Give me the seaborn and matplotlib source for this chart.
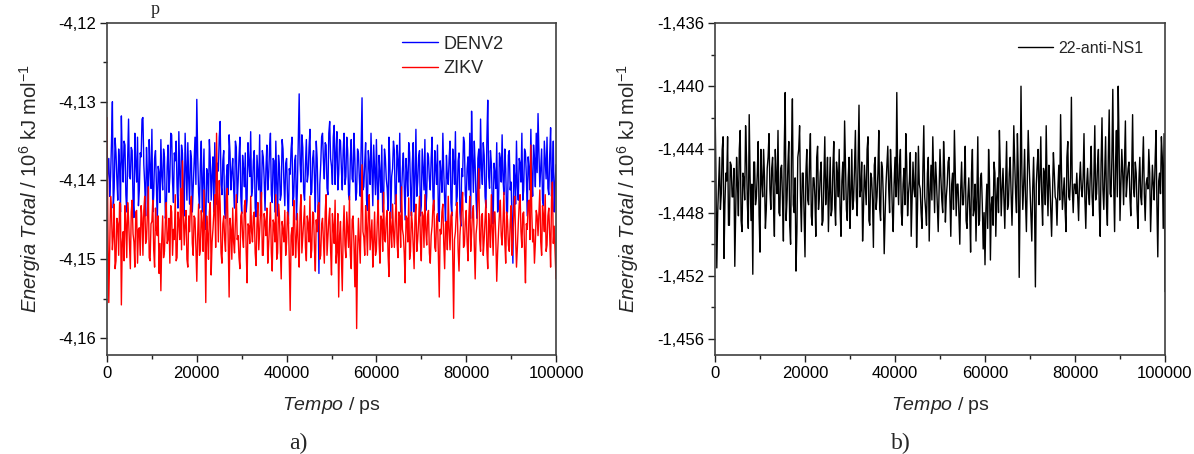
import numpy as np
import pandas as pd
import matplotlib
matplotlib.use("Agg")
import matplotlib.pyplot as plt
from matplotlib.ticker import MultipleLocator, FuncFormatter
import seaborn as sns

# ---------------- data (10^6 kJ/mol) ----------------
# "_a" lists: samples at t = 0, 400, 800 ... 100000 ps
# "_b" lists: samples at t = 200, 600, 1000 ... 99800 ps
time_step_ps = 400
denv2_a = [
    -4.1405, -4.1372, -4.1395, -4.1300, -4.1410, -4.1365, -4.1425, -4.1380, -4.1318, -4.1402,
    -4.1355, -4.1440, -4.1322, -4.1398, -4.1362, -4.1447, -4.1378, -4.1345, -4.1412, -4.1370,
    -4.1320, -4.1405, -4.1358, -4.1432, -4.1385, -4.1335, -4.1418, -4.1362, -4.1455, -4.1390,
    -4.1348, -4.1412, -4.1370, -4.1438, -4.1355, -4.1395, -4.1342, -4.1428, -4.1375, -4.1408,
    -4.1338, -4.1420, -4.1365, -4.1445, -4.1385, -4.1352, -4.1430, -4.1372, -4.1410, -4.1345,
    -4.1297, -4.1415, -4.1380, -4.1440, -4.1360, -4.1462, -4.1392, -4.1348, -4.1425, -4.1370,
    -4.1352, -4.1430, -4.1388, -4.1325, -4.1418, -4.1362, -4.1448, -4.1380, -4.1342, -4.1412,
    -4.1372, -4.1435, -4.1358, -4.1402, -4.1345, -4.1442, -4.1385, -4.1365, -4.1425, -4.1378,
    -4.1338, -4.1410, -4.1362, -4.1446, -4.1390, -4.1342, -4.1420, -4.1370, -4.1438, -4.1355,
    -4.1395, -4.1340, -4.1428, -4.1375, -4.1350, -4.1445, -4.1382, -4.1418, -4.1360, -4.1432,
    -4.1372, -4.1455, -4.1392, -4.1345, -4.1420, -4.1368, -4.1410, -4.1290, -4.1402, -4.1358,
    -4.1425, -4.1348, -4.1392, -4.1335, -4.1415, -4.1362, -4.1440, -4.1372, -4.1518, -4.1380,
    -4.1340, -4.1398, -4.1355, -4.1418, -4.1325, -4.1382, -4.1345, -4.1405, -4.1338, -4.1392,
    -4.1350, -4.1412, -4.1340, -4.1395, -4.1362, -4.1425, -4.1348, -4.1402, -4.1372, -4.1415,
    -4.1365, -4.1420, -4.1295, -4.1408, -4.1352, -4.1438, -4.1378, -4.1340, -4.1432, -4.1385,
    -4.1348, -4.1442, -4.1390, -4.1355, -4.1428, -4.1372, -4.1410, -4.1345, -4.1448, -4.1385,
    -4.1362, -4.1425, -4.1375, -4.1340, -4.1418, -4.1365, -4.1450, -4.1392, -4.1352, -4.1412,
    -4.1378, -4.1440, -4.1335, -4.1402, -4.1362, -4.1432, -4.1385, -4.1348, -4.1420, -4.1370,
    -4.1412, -4.1345, -4.1438, -4.1382, -4.1355, -4.1452, -4.1392, -4.1340, -4.1425, -4.1368,
    -4.1405, -4.1350, -4.1445, -4.1378, -4.1338, -4.1420, -4.1365, -4.1458, -4.1395, -4.1352,
    -4.1428, -4.1370, -4.1340, -4.1312, -4.1415, -4.1382, -4.1448, -4.1360, -4.1322, -4.1405,
    -4.1368, -4.1435, -4.1298, -4.1410, -4.1378, -4.1455, -4.1390, -4.1352, -4.1432, -4.1372,
    -4.1342, -4.1418, -4.1385, -4.1440, -4.1362, -4.1402, -4.1505, -4.1395, -4.1350, -4.1425,
    -4.1378, -4.1340, -4.1412, -4.1365, -4.1445, -4.1385, -4.1335, -4.1420, -4.1372, -4.1340,
    -4.1315, -4.1408, -4.1360, -4.1432, -4.1375, -4.1345, -4.1418, -4.1333, -4.1395, -4.1440,
    -4.1380,
]
denv2_b = [
    -4.1388, -4.1420, -4.1352, -4.1435, -4.1346, -4.1398, -4.1360, -4.1440, -4.1375, -4.1350,
    -4.1418, -4.1372, -4.1395, -4.1358, -4.1425, -4.1340, -4.1402, -4.1432, -4.1365, -4.1322,
    -4.1380, -4.1445, -4.1392, -4.1348, -4.1410, -4.1440, -4.1372, -4.1405, -4.1382, -4.1428,
    -4.1395, -4.1360, -4.1448, -4.1382, -4.1415, -4.1340, -4.1402, -4.1365, -4.1350, -4.1435,
    -4.1392, -4.1355, -4.1412, -4.1340, -4.1425, -4.1398, -4.1362, -4.1440, -4.1378, -4.1405,
    -4.1368, -4.1435, -4.1350, -4.1402, -4.1448, -4.1385, -4.1428, -4.1375, -4.1392, -4.1440,
    -4.1402, -4.1378, -4.1345, -4.1405, -4.1375, -4.1440, -4.1395, -4.1418, -4.1365, -4.1390,
    -4.1410, -4.1350, -4.1428, -4.1370, -4.1420, -4.1368, -4.1408, -4.1440, -4.1352, -4.1395,
    -4.1420, -4.1375, -4.1435, -4.1368, -4.1412, -4.1445, -4.1362, -4.1398, -4.1385, -4.1412,
    -4.1360, -4.1418, -4.1372, -4.1440, -4.1405, -4.1368, -4.1425, -4.1348, -4.1402, -4.1378,
    -4.1420, -4.1385, -4.1360, -4.1432, -4.1375, -4.1450, -4.1352, -4.1378, -4.1342, -4.1415,
    -4.1380, -4.1402, -4.1358, -4.1418, -4.1372, -4.1395, -4.1350, -4.1425, -4.1405, -4.1345,
    -4.1375, -4.1352, -4.1410, -4.1340, -4.1372, -4.1405, -4.1330, -4.1365, -4.1412, -4.1348,
    -4.1385, -4.1362, -4.1405, -4.1345, -4.1418, -4.1372, -4.1398, -4.1340, -4.1425, -4.1360,
    -4.1398, -4.1355, -4.1412, -4.1378, -4.1425, -4.1362, -4.1405, -4.1388, -4.1355, -4.1418,
    -4.1405, -4.1368, -4.1415, -4.1440, -4.1360, -4.1398, -4.1438, -4.1378, -4.1395, -4.1350,
    -4.1430, -4.1355, -4.1402, -4.1440, -4.1385, -4.1410, -4.1372, -4.1420, -4.1365, -4.1445,
    -4.1352, -4.1398, -4.1420, -4.1370, -4.1445, -4.1360, -4.1412, -4.1438, -4.1365, -4.1398,
    -4.1372, -4.1420, -4.1362, -4.1405, -4.1440, -4.1375, -4.1415, -4.1388, -4.1452, -4.1395,
    -4.1372, -4.1428, -4.1360, -4.1405, -4.1432, -4.1375, -4.1440, -4.1385, -4.1345, -4.1418,
    -4.1385, -4.1412, -4.1448, -4.1372, -4.1350, -4.1425, -4.1372, -4.1410, -4.1385, -4.1352,
    -4.1420, -4.1350, -4.1395, -4.1362, -4.1425, -4.1378, -4.1410, -4.1440, -4.1365, -4.1402,
    -4.1398, -4.1360, -4.1442, -4.1368, -4.1412, -4.1452, -4.1380, -4.1430, -4.1408, -4.1372,
    -4.1402, -4.1425, -4.1360, -4.1395, -4.1370, -4.1412, -4.1398, -4.1355, -4.1408, -4.1390,
    -4.1365, -4.1385, -4.1425, -4.1350, -4.1398, -4.1410, -4.1368, -4.1420, -4.1350, -4.1405,
]
zikv_a = [
    -4.1320, -4.1555, -4.1420, -4.1488, -4.1430, -4.1502, -4.1455, -4.1428, -4.1558, -4.1465,
    -4.1432, -4.1498, -4.1448, -4.1512, -4.1425, -4.1478, -4.1440, -4.1505, -4.1460, -4.1432,
    -4.1495, -4.1420, -4.1475, -4.1408, -4.1502, -4.1452, -4.1488, -4.1435, -4.1470, -4.1518,
    -4.1540, -4.1445, -4.1490, -4.1428, -4.1475, -4.1505, -4.1440, -4.1462, -4.1418, -4.1498,
    -4.1452, -4.1410, -4.1375, -4.1482, -4.1438, -4.1510, -4.1465, -4.1420, -4.1495, -4.1448,
    -4.1528, -4.1430, -4.1488, -4.1455, -4.1412, -4.1555, -4.1468, -4.1440, -4.1520, -4.1462,
    -4.1418, -4.1340, -4.1478, -4.1430, -4.1505, -4.1445, -4.1490, -4.1410, -4.1548, -4.1462,
    -4.1435, -4.1492, -4.1418, -4.1470, -4.1512, -4.1440, -4.1485, -4.1425, -4.1530, -4.1458,
    -4.1420, -4.1478, -4.1440, -4.1508, -4.1428, -4.1465, -4.1415, -4.1495, -4.1452, -4.1435,
    -4.1482, -4.1428, -4.1515, -4.1455, -4.1418, -4.1492, -4.1445, -4.1525, -4.1462, -4.1438,
    -4.1478, -4.1448, -4.1565, -4.1460, -4.1425, -4.1498, -4.1442, -4.1510, -4.1418, -4.1472,
    -4.1432, -4.1502, -4.1455, -4.1420, -4.1488, -4.1442, -4.1515, -4.1465, -4.1428, -4.1495,
    -4.1448, -4.1505, -4.1418, -4.1472, -4.1435, -4.1520, -4.1458, -4.1425, -4.1490, -4.1548,
    -4.1452, -4.1540, -4.1432, -4.1498, -4.1462, -4.1420, -4.1512, -4.1445, -4.1535, -4.1588,
    -4.1448, -4.1505, -4.1380, -4.1472, -4.1432, -4.1495, -4.1418, -4.1468, -4.1510, -4.1440,
    -4.1488, -4.1425, -4.1505, -4.1450, -4.1415, -4.1478, -4.1438, -4.1522, -4.1460, -4.1430,
    -4.1485, -4.1418, -4.1498, -4.1445, -4.1408, -4.1470, -4.1530, -4.1448, -4.1422, -4.1490,
    -4.1455, -4.1512, -4.1430, -4.1475, -4.1420, -4.1502, -4.1445, -4.1418, -4.1482, -4.1438,
    -4.1505, -4.1458, -4.1425, -4.1490, -4.1442, -4.1548, -4.1468, -4.1430, -4.1512, -4.1452,
    -4.1420, -4.1488, -4.1440, -4.1575, -4.1465, -4.1428, -4.1515, -4.1450, -4.1415, -4.1482,
    -4.1438, -4.1502, -4.1420, -4.1468, -4.1432, -4.1525, -4.1455, -4.1385, -4.1490, -4.1442,
    -4.1475, -4.1425, -4.1512, -4.1460, -4.1418, -4.1495, -4.1440, -4.1528, -4.1465, -4.1425,
    -4.1482, -4.1415, -4.1505, -4.1450, -4.1490, -4.1432, -4.1475, -4.1420, -4.1510, -4.1455,
    -4.1418, -4.1485, -4.1440, -4.1530, -4.1462, -4.1425, -4.1355, -4.1478, -4.1505, -4.1438,
    -4.1470, -4.1412, -4.1495, -4.1445, -4.1418, -4.1482, -4.1435, -4.1510, -4.1402, -4.1458,
    -4.1525,
]
zikv_b = [
    -4.1460, -4.1485, -4.1438, -4.1470, -4.1512, -4.1448, -4.1495, -4.1430, -4.1478, -4.1502,
    -4.1455, -4.1428, -4.1482, -4.1440, -4.1468, -4.1510, -4.1438, -4.1462, -4.1495, -4.1448,
    -4.1438, -4.1480, -4.1442, -4.1498, -4.1455, -4.1425, -4.1510, -4.1462, -4.1445, -4.1480,
    -4.1475, -4.1498, -4.1452, -4.1480, -4.1448, -4.1432, -4.1495, -4.1475, -4.1502, -4.1440,
    -4.1475, -4.1488, -4.1442, -4.1455, -4.1500, -4.1445, -4.1430, -4.1480, -4.1445, -4.1485,
    -4.1470, -4.1495, -4.1438, -4.1490, -4.1468, -4.1445, -4.1500, -4.1428, -4.1478, -4.1440,
    -4.1485, -4.1420, -4.1400, -4.1492, -4.1455, -4.1475, -4.1420, -4.1478, -4.1448, -4.1500,
    -4.1478, -4.1450, -4.1475, -4.1498, -4.1445, -4.1472, -4.1432, -4.1490, -4.1455, -4.1480,
    -4.1465, -4.1445, -4.1492, -4.1455, -4.1488, -4.1440, -4.1495, -4.1442, -4.1470, -4.1505,
    -4.1455, -4.1492, -4.1450, -4.1478, -4.1500, -4.1430, -4.1485, -4.1452, -4.1478, -4.1495,
    -4.1440, -4.1502, -4.1470, -4.1495, -4.1450, -4.1472, -4.1485, -4.1440, -4.1492, -4.1450,
    -4.1485, -4.1445, -4.1478, -4.1498, -4.1440, -4.1485, -4.1450, -4.1432, -4.1500, -4.1455,
    -4.1478, -4.1440, -4.1495, -4.1450, -4.1488, -4.1442, -4.1480, -4.1505, -4.1442, -4.1470,
    -4.1498, -4.1465, -4.1482, -4.1440, -4.1485, -4.1495, -4.1450, -4.1480, -4.1470, -4.1495,
    -4.1475, -4.1442, -4.1465, -4.1495, -4.1458, -4.1440, -4.1488, -4.1450, -4.1478, -4.1495,
    -4.1452, -4.1480, -4.1445, -4.1490, -4.1475, -4.1448, -4.1495, -4.1440, -4.1485, -4.1465,
    -4.1450, -4.1478, -4.1440, -4.1485, -4.1462, -4.1492, -4.1445, -4.1478, -4.1500, -4.1440,
    -4.1482, -4.1445, -4.1490, -4.1452, -4.1478, -4.1440, -4.1485, -4.1462, -4.1445, -4.1492,
    -4.1470, -4.1432, -4.1485, -4.1448, -4.1495, -4.1462, -4.1440, -4.1480, -4.1455, -4.1488,
    -4.1462, -4.1445, -4.1495, -4.1475, -4.1440, -4.1488, -4.1470, -4.1432, -4.1485, -4.1452,
    -4.1478, -4.1445, -4.1490, -4.1440, -4.1482, -4.1468, -4.1418, -4.1475, -4.1445, -4.1495,
    -4.1450, -4.1488, -4.1442, -4.1485, -4.1460, -4.1440, -4.1475, -4.1492, -4.1442, -4.1470,
    -4.1452, -4.1478, -4.1440, -4.1482, -4.1455, -4.1495, -4.1442, -4.1470, -4.1485, -4.1430,
    -4.1465, -4.1442, -4.1490, -4.1455, -4.1428, -4.1475, -4.1440, -4.1462, -4.1480, -4.1445,
    -4.1440, -4.1478, -4.1432, -4.1465, -4.1490, -4.1445, -4.1470, -4.1425, -4.1480, -4.1490,
]
anti_ns1_a = [
    -1.4409, -1.4515, -1.4462, -1.4478, -1.4440, -1.4509, -1.4455, -1.4432, -1.4488, -1.4450,
    -1.4470, -1.4514, -1.4445, -1.4482, -1.4428, -1.4492, -1.4458, -1.4425, -1.4475, -1.4418,
    -1.4485, -1.4519, -1.4448, -1.4470, -1.4435, -1.4505, -1.4460, -1.4440, -1.4490, -1.4452,
    -1.4430, -1.4478, -1.4445, -1.4495, -1.4458, -1.4428, -1.4482, -1.4450, -1.4498, -1.4404,
    -1.4472, -1.4435, -1.4500, -1.4408, -1.4480, -1.4517, -1.4445, -1.4425, -1.4492, -1.4455,
    -1.4508, -1.4440, -1.4475, -1.4430, -1.4488, -1.4458, -1.4495, -1.4438, -1.4470, -1.4448,
    -1.4485, -1.4432, -1.4462, -1.4492, -1.4445, -1.4478, -1.4435, -1.4488, -1.4455, -1.4440,
    -1.4495, -1.4448, -1.4422, -1.4478, -1.4458, -1.4490, -1.4440, -1.4472, -1.4428, -1.4482,
    -1.4412, -1.4465, -1.4498, -1.4450, -1.4475, -1.4432, -1.4488, -1.4458, -1.4502, -1.4445,
    -1.4470, -1.4428, -1.4485, -1.4452, -1.4506, -1.4462, -1.4438, -1.4480, -1.4455, -1.4492,
    -1.4445, -1.4404, -1.4475, -1.4440, -1.4488, -1.4452, -1.4430, -1.4482, -1.4460, -1.4495,
    -1.4448, -1.4470, -1.4502, -1.4438, -1.4465, -1.4490, -1.4425, -1.4478, -1.4455, -1.4498,
    -1.4450, -1.4432, -1.4480, -1.4458, -1.4492, -1.4440, -1.4472, -1.4435, -1.4486, -1.4462,
    -1.4445, -1.4495, -1.4455, -1.4428, -1.4482, -1.4462, -1.4500, -1.4448, -1.4475, -1.4438,
    -1.4490, -1.4458, -1.4505, -1.4440, -1.4478, -1.4498, -1.4432, -1.4485, -1.4455, -1.4503,
    -1.4513, -1.4462, -1.4440, -1.4510, -1.4470, -1.4448, -1.4495, -1.4458, -1.4428, -1.4482,
    -1.4452, -1.4490, -1.4435, -1.4475, -1.4445, -1.4488, -1.4425, -1.4468, -1.4430, -1.4521,
    -1.4400, -1.4478, -1.4440, -1.4492, -1.4428, -1.4465, -1.4498, -1.4445, -1.4527, -1.4450,
    -1.4475, -1.4432, -1.4488, -1.4455, -1.4425, -1.4482, -1.4460, -1.4495, -1.4442, -1.4470,
    -1.4488, -1.4450, -1.4418, -1.4478, -1.4458, -1.4492, -1.4435, -1.4472, -1.4407, -1.4480,
    -1.4462, -1.4455, -1.4485, -1.4448, -1.4470, -1.4430, -1.4490, -1.4452, -1.4475, -1.4438,
    -1.4482, -1.4425, -1.4468, -1.4440, -1.4495, -1.4420, -1.4478, -1.4432, -1.4488, -1.4415,
    -1.4470, -1.4402, -1.4492, -1.4428, -1.4400, -1.4485, -1.4440, -1.4475, -1.4422, -1.4460,
    -1.4448, -1.4482, -1.4418, -1.4470, -1.4455, -1.4490, -1.4445, -1.4475, -1.4432, -1.4485,
    -1.4458, -1.4440, -1.4492, -1.4450, -1.4472, -1.4428, -1.4508, -1.4455, -1.4432, -1.4490,
    -1.4530,
]
anti_ns1_b = [
    -1.4455, -1.4480, -1.4445, -1.4468, -1.4432, -1.4475, -1.4460, -1.4488, -1.4448, -1.4470,
    -1.4452, -1.4478, -1.4462, -1.4440, -1.4485, -1.4455, -1.4472, -1.4445, -1.4490, -1.4458,
    -1.4462, -1.4448, -1.4475, -1.4455, -1.4482, -1.4440, -1.4470, -1.4458, -1.4478, -1.4445,
    -1.4465, -1.4452, -1.4475, -1.4440, -1.4468, -1.4480, -1.4452, -1.4472, -1.4438, -1.4485,
    -1.4450, -1.4488, -1.4440, -1.4475, -1.4458, -1.4492, -1.4440, -1.4470, -1.4455, -1.4480,
    -1.4455, -1.4472, -1.4448, -1.4482, -1.4458, -1.4470, -1.4445, -1.4478, -1.4455, -1.4488,
    -1.4458, -1.4475, -1.4445, -1.4468, -1.4482, -1.4452, -1.4475, -1.4448, -1.4470, -1.4478,
    -1.4460, -1.4472, -1.4450, -1.4485, -1.4445, -1.4468, -1.4478, -1.4452, -1.4470, -1.4448,
    -1.4470, -1.4448, -1.4478, -1.4462, -1.4440, -1.4485, -1.4455, -1.4472, -1.4450, -1.4478,
    -1.4455, -1.4478, -1.4448, -1.4470, -1.4482, -1.4450, -1.4465, -1.4440, -1.4478, -1.4462,
    -1.4470, -1.4458, -1.4450, -1.4480, -1.4462, -1.4475, -1.4448, -1.4468, -1.4442, -1.4472,
    -1.4465, -1.4442, -1.4478, -1.4462, -1.4480, -1.4452, -1.4470, -1.4488, -1.4445, -1.4468,
    -1.4472, -1.4458, -1.4448, -1.4475, -1.4465, -1.4458, -1.4480, -1.4452, -1.4470, -1.4448,
    -1.4470, -1.4462, -1.4478, -1.4455, -1.4462, -1.4480, -1.4465, -1.4475, -1.4460, -1.4485,
    -1.4470, -1.4478, -1.4455, -1.4482, -1.4462, -1.4470, -1.4488, -1.4458, -1.4475, -1.4480,
    -1.4478, -1.4490, -1.4460, -1.4475, -1.4488, -1.4455, -1.4470, -1.4480, -1.4452, -1.4465,
    -1.4470, -1.4460, -1.4478, -1.4455, -1.4468, -1.4462, -1.4448, -1.4480, -1.4455, -1.4470,
    -1.4455, -1.4462, -1.4472, -1.4458, -1.4448, -1.4482, -1.4465, -1.4475, -1.4462, -1.4440,
    -1.4458, -1.4470, -1.4452, -1.4475, -1.4462, -1.4450, -1.4478, -1.4468, -1.4455, -1.4472,
    -1.4465, -1.4472, -1.4455, -1.4468, -1.4478, -1.4445, -1.4470, -1.4458, -1.4465, -1.4462,
    -1.4468, -1.4470, -1.4460, -1.4465, -1.4458, -1.4472, -1.4462, -1.4468, -1.4455, -1.4470,
    -1.4458, -1.4472, -1.4450, -1.4478, -1.4448, -1.4465, -1.4455, -1.4475, -1.4445, -1.4468,
    -1.4445, -1.4462, -1.4450, -1.4470, -1.4438, -1.4462, -1.4455, -1.4448, -1.4470, -1.4452,
    -1.4470, -1.4455, -1.4465, -1.4448, -1.4478, -1.4460, -1.4470, -1.4452, -1.4468, -1.4462,
    -1.4465, -1.4455, -1.4470, -1.4462, -1.4448, -1.4475, -1.4460, -1.4468, -1.4445, -1.4430,
]
x_ticks = [0, 20000, 40000, 60000, 80000, 100000]
left_yticks = [-4.16, -4.15, -4.14, -4.13, -4.12]
right_yticks = [-1.456, -1.452, -1.448, -1.444, -1.440, -1.436]

t_a = np.arange(len(denv2_a)) * time_step_ps
t_b = np.arange(len(denv2_b)) * time_step_ps + time_step_ps // 2

def series(a, b, name):
    d = pd.DataFrame({"t": np.concatenate([t_a, t_b]), "E": a + b})
    d["s"] = name
    return d.sort_values("t").reset_index(drop=True)

df_left = pd.concat([series(denv2_a, denv2_b, "DENV2"), series(zikv_a, zikv_b, "ZIKV")],
                    ignore_index=True)
df_right = series(anti_ns1_a, anti_ns1_b, "22-anti-NS1")

# ---------------- style ----------------
sns.set_theme(style="white")
plt.rcParams["font.family"] = ["Liberation Sans", "DejaVu Sans"]
plt.rcParams["mathtext.fontset"] = "custom"
plt.rcParams["mathtext.rm"] = "Liberation Sans"
plt.rcParams["mathtext.it"] = "Liberation Sans:italic"

W, H = 1194, 454
fig = plt.figure(figsize=(W / 100, H / 100), dpi=100)

def px_axes(x0, x1, y0, y1):
    return fig.add_axes([x0 / W, 1 - y1 / H, (x1 - x0) / W, (y1 - y0) / H])

axL = px_axes(107, 556, 23, 355)
axR = px_axes(715, 1165, 23, 355)

sns.lineplot(data=df_left, x="t", y="E", hue="s", palette={"DENV2": "#0000ff", "ZIKV": "#ff0000"},
             estimator=None, sort=False, linewidth=1.0, ax=axL)
sns.lineplot(data=df_right, x="t", y="E", hue="s", palette={"22-anti-NS1": "black"},
             estimator=None, sort=False, linewidth=1.0, ax=axR)

spine_col = "#404040"
for ax, yt, fmt, ylim in [
    (axL, left_yticks, "{:.2f}", (-4.16216, -4.12)),
    (axR, right_yticks, "{:.3f}", (-1.45701, -1.436)),
]:
    ax.set_xlim(0, 100000)
    ax.set_ylim(*ylim)
    ax.set_xticks(x_ticks)
    ax.xaxis.set_minor_locator(MultipleLocator(10000))
    ax.set_yticks(yt)
    step = yt[1] - yt[0]
    ax.yaxis.set_minor_locator(MultipleLocator(step / 2))
    ax.yaxis.set_major_formatter(FuncFormatter(lambda v, p, f=fmt: f.format(v).replace(".", ",")))
    ax.xaxis.set_major_formatter(FuncFormatter(lambda v, p: f"{int(round(v))}"))
    ax.tick_params(which="both", direction="out", bottom=True, left=True, top=False, right=False,
                   colors="#202020", labelcolor="black", width=1.0)
    ax.tick_params(which="major", length=5, labelsize=12, pad=3)
    ax.tick_params(which="minor", length=3)
    for sp in ax.spines.values():
        sp.set_visible(True)
        sp.set_color(spine_col)
        sp.set_linewidth(1.2)
    ax.set_xlabel(r"$\mathit{Tempo}$ / ps", fontsize=14, labelpad=10)
    ax.set_ylabel(r"$\mathit{Energia\ Total}$ / 10$^{6}$ kJ mol$^{-1}$", fontsize=14.5, labelpad=11)

legL = axL.legend(frameon=False, loc="upper left", bbox_to_anchor=(0.657, 0.962),
                  borderaxespad=0, borderpad=0, handlelength=2.0, handletextpad=0.3,
                  labelspacing=0.42, fontsize=13)
for h in legL.get_lines():
    h.set_linewidth(1.0)
legR = axR.legend(frameon=False, loc="upper left", bbox_to_anchor=(0.673, 0.947),
                  borderaxespad=0, borderpad=0, handlelength=2.2, handletextpad=0.3,
                  fontsize=11.5)
for h in legR.get_lines():
    h.set_linewidth(1.0)

fig.text(298 / W, 1 - 443 / H, "a)", ha="center", va="center", fontsize=17,
         family=["Liberation Serif", "DejaVu Serif"])
fig.text(901 / W, 1 - 443 / H, "b)", ha="center", va="center", fontsize=17,
         family=["Liberation Serif", "DejaVu Serif"])
fig.text(155 / W, 1 - 1 / H, "p", ha="center", va="top", fontsize=13,
         family=["Liberation Serif", "DejaVu Serif"])

fig.savefig("out.png", dpi=100)
